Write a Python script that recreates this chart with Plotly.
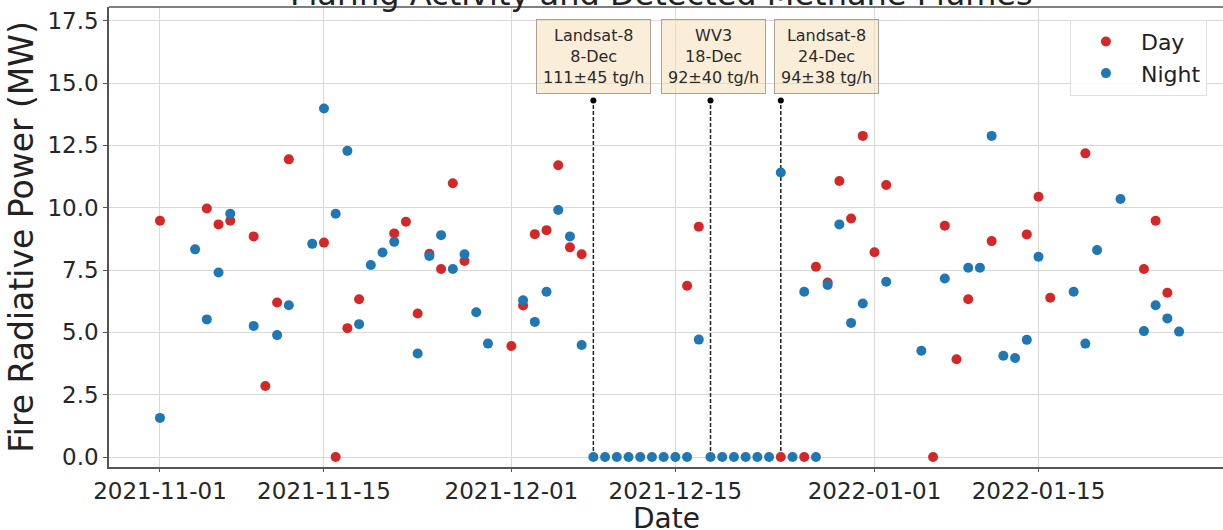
import plotly.graph_objects as go

# ---------------- data ----------------
day_dates = ["2021-11-01", "2021-11-05", "2021-11-06", "2021-11-07", "2021-11-09", "2021-11-10",
             "2021-11-11", "2021-11-12", "2021-11-15", "2021-11-16", "2021-11-17", "2021-11-18",
             "2021-11-21", "2021-11-22", "2021-11-23", "2021-11-24", "2021-11-25", "2021-11-26",
             "2021-11-27", "2021-12-01", "2021-12-02", "2021-12-03", "2021-12-04", "2021-12-05",
             "2021-12-06", "2021-12-07", "2021-12-16", "2021-12-17", "2021-12-24", "2021-12-26",
             "2021-12-27", "2021-12-28", "2021-12-29", "2021-12-30", "2021-12-31", "2022-01-01",
             "2022-01-02", "2022-01-06", "2022-01-07", "2022-01-08", "2022-01-09", "2022-01-11",
             "2022-01-14", "2022-01-15", "2022-01-16", "2022-01-19", "2022-01-24", "2022-01-25",
             "2022-01-26"]
day_frp = [9.48, 9.97, 9.33, 9.48, 8.85, 2.85,
           6.20, 11.94, 8.60, 0.0, 5.17, 6.33,
           8.97, 9.44, 5.76, 8.15, 7.54, 10.98,
           7.86, 4.45, 6.08, 8.94, 9.10, 11.70,
           8.41, 8.13, 6.87, 9.24, 0.0, 0.0,
           7.63, 7.00, 11.07, 9.57, 12.88, 8.21,
           10.91, 0.0, 9.28, 3.92, 6.33, 8.66,
           8.93, 10.44, 6.39, 12.18, 7.54, 9.48,
           6.59]

night_dates = ["2021-11-01", "2021-11-04", "2021-11-05", "2021-11-06", "2021-11-07", "2021-11-09",
               "2021-11-11", "2021-11-12", "2021-11-14", "2021-11-15", "2021-11-16", "2021-11-17",
               "2021-11-18", "2021-11-19", "2021-11-20", "2021-11-21", "2021-11-23", "2021-11-24",
               "2021-11-25", "2021-11-26", "2021-11-27", "2021-11-28", "2021-11-29", "2021-12-02",
               "2021-12-03", "2021-12-04", "2021-12-05", "2021-12-06", "2021-12-07", "2021-12-08",
               "2021-12-09", "2021-12-10", "2021-12-11", "2021-12-12", "2021-12-13", "2021-12-14",
               "2021-12-15", "2021-12-16", "2021-12-17", "2021-12-18", "2021-12-19", "2021-12-20",
               "2021-12-21", "2021-12-22", "2021-12-23", "2021-12-24", "2021-12-25", "2021-12-26",
               "2021-12-27", "2021-12-28", "2021-12-29", "2021-12-30", "2021-12-31", "2022-01-02",
               "2022-01-05", "2022-01-07", "2022-01-09", "2022-01-10", "2022-01-11", "2022-01-12",
               "2022-01-13", "2022-01-14", "2022-01-15", "2022-01-18", "2022-01-19", "2022-01-20",
               "2022-01-22", "2022-01-24", "2022-01-25", "2022-01-26", "2022-01-27"]
night_frp = [1.57, 8.33, 5.52, 7.40, 9.76, 5.26,
             4.89, 6.09, 8.55, 13.98, 9.76, 12.28,
             5.33, 7.70, 8.20, 8.63, 4.15, 8.06,
             8.90, 7.54, 8.13, 5.81, 4.55, 6.29,
             5.42, 6.63, 9.91, 8.85, 4.49, 0.0,
             0.0, 0.0, 0.0, 0.0, 0.0, 0.0,
             0.0, 0.0, 4.71, 0.0, 0.0, 0.0,
             0.0, 0.0, 0.0, 11.41, 0.0, 6.63,
             0.0, 6.90, 9.33, 5.38, 6.16, 7.03,
             4.26, 7.16, 7.59, 7.59, 12.88, 4.06,
             3.97, 4.70, 8.03, 6.63, 4.55, 8.30,
             10.35, 5.05, 6.09, 5.56, 5.03]

# detected methane plumes
plume_dates = ["2021-12-08", "2021-12-18", "2021-12-24"]
plume_top = [14.3, 14.3, 14.3]
plume_labels = ["Landsat-8<br>8-Dec<br>111±45 tg/h",
                "WV3<br>18-Dec<br>92±40 tg/h",
                "Landsat-8<br>24-Dec<br>94±38 tg/h"]
label_dates = ["2021-12-08 00:00", "2021-12-18 07:00", "2021-12-27 22:00"]
label_y = [16.06, 16.06, 16.06]

x_ticks = ["2021-11-01", "2021-11-15", "2021-12-01", "2021-12-15", "2022-01-01", "2022-01-15"]
y_ticks = [0.0, 2.5, 5.0, 7.5, 10.0, 12.5, 15.0, 17.5]

# ---------------- figure ----------------
FONT = "DejaVu Sans"
RED = "#d62728"
BLUE = "#1f77b4"

fig = go.Figure()

for d, top in zip(plume_dates, plume_top):
    fig.add_trace(go.Scatter(x=[d, d], y=[0, top], mode="lines",
                             line=dict(color="#222222", width=1.5, dash="4px,2px"),
                             showlegend=False, hoverinfo="skip"))
fig.add_trace(go.Scatter(x=plume_dates, y=plume_top, mode="markers",
                         marker=dict(color="black", size=6),
                         showlegend=False, hoverinfo="skip"))

fig.add_trace(go.Scatter(x=day_dates, y=day_frp, mode="markers", name="Day",
                         marker=dict(color=RED, size=10, line=dict(width=0))))
fig.add_trace(go.Scatter(x=night_dates, y=night_frp, mode="markers", name="Night",
                         marker=dict(color=BLUE, size=10, line=dict(width=0))))

for xd, yv, txt in zip(label_dates, label_y, plume_labels):
    fig.add_annotation(x=xd, y=yv, xref="x", yref="y", text=txt, showarrow=False,
                       font=dict(family=FONT, size=16, color="#2a2a2a"),
                       bgcolor="rgba(245,222,179,0.5)", bordercolor="#aaa295",
                       borderwidth=1, borderpad=6, align="center")

fig.add_annotation(text="Flaring Activity and Detected Methane Plumes",
                   xref="paper", yref="paper", x=0.496, y=1.0,
                   xanchor="center", yanchor="bottom", yshift=-8, showarrow=False,
                   font=dict(family=FONT, size=32, color="#222222"))

fig.add_annotation(text="Date", xref="paper", yref="paper", x=0.5, y=0,
                   xanchor="center", yanchor="middle", yshift=-51, showarrow=False,
                   font=dict(family=FONT, size=28, color="#222222"))

fig.update_layout(
    width=1223, height=530,
    margin=dict(l=109, r=0, t=7, b=63, autoexpand=False),
    paper_bgcolor="white", plot_bgcolor="white",
    font=dict(family=FONT, color="#262626"),
    legend=dict(x=0.8626, y=0.9724, xanchor="left", yanchor="top",
                font=dict(family=FONT, size=22, color="#222222"),
                bgcolor="rgba(255,255,255,0.85)", bordercolor="#e0e0e0", borderwidth=1,
                itemwidth=60),
    showlegend=True,
)

fig.update_xaxes(
    type="date", range=["2021-10-27 15:36", "2022-01-30 18:00"],
    tickvals=x_ticks, ticktext=x_ticks,
    tickfont=dict(family=FONT, size=23, color="#262626"),
    showgrid=True, gridcolor="#d9d9d9", gridwidth=1,
    showline=True, linecolor="#555555", linewidth=1.5, mirror=False,
    ticks="outside", ticklen=3, tickcolor="#555555",
    zeroline=False, automargin=False,
)
fig.update_yaxes(
    range=[-0.4, 18.05], tickvals=y_ticks, tickformat=".1f",
    tickfont=dict(family=FONT, size=23, color="#262626"),
    showgrid=True, gridcolor="#d9d9d9", gridwidth=1,
    showline=True, linecolor="#555555", linewidth=1.5,
    ticks="outside", ticklen=4, tickcolor="#555555",
    title=dict(text="Fire Radiative Power (MW)", font=dict(family=FONT, size=33, color="#222222"),
               standoff=4),
    zeroline=False, automargin=False,
)
# top spine
fig.add_shape(type="line", xref="paper", yref="paper", x0=0, x1=1, y0=1, y1=1,
              line=dict(color="#555555", width=1.5))

fig.write_html("out.html", config={"displayModeBar": False},
               post_script="document.body.style.margin='0';")
